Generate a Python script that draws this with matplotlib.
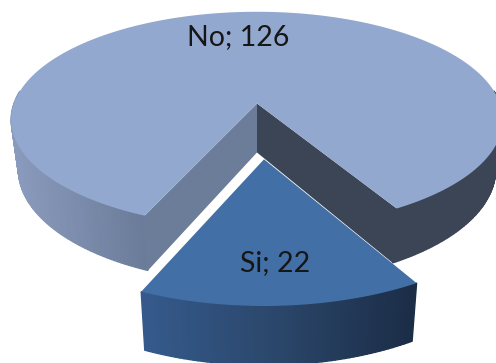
import numpy as np
import matplotlib
matplotlib.use("Agg")
import matplotlib.pyplot as plt
from matplotlib.colors import LinearSegmentedColormap

labels = ["No", "Si"]
values = [126, 22]

CX, CY = 257, 103.5
A, B, K = 243, 105.5, 0.15
THICK = 49
TAPER = 0.0006
EXPLODE = 0.49
SI_SHIFT = 7
LEFT_ANGLE = 23.5  # degrees left of straight-down where Si starts


def project(X, Y, z=0.0):
    s = 1 / (1 - K * Y)
    px = A * X * s * (1 - TAPER * z)
    return CX + px, CY + B * Y * s + z * s ** 0.75


def disc(theta, dy=0.0):
    # theta measured from straight down, growing towards the right
    return np.sin(theta), np.cos(theta) + dy


def side_strip(ax, theta, dy, cmap, x_lo, x_hi, shift, zorder):
    for i in range(len(theta) - 1):
        X, Y = disc(theta[i:i + 2], dy=dy)
        x0, y0 = project(X, Y)
        x1, y1 = project(X, Y, THICK)
        t = (0.5 * (x0[0] + x0[1]) - x_lo) / (x_hi - x_lo)
        ax.fill([x0[0] + shift, x0[1] + shift, x1[1] + shift, x1[0] + shift],
                [y0[0], y0[1], y1[1], y1[0]],
                color=cmap(np.clip(t, 0, 1)), lw=1.0, zorder=zorder)


def main():
    fig = plt.figure(figsize=(4.96, 3.63), dpi=100)
    ax = fig.add_axes([0, 0, 1, 1])
    ax.set_xlim(0, 496)
    ax.set_ylim(363, 0)
    ax.axis("off")

    sweep_si = 2 * np.pi * values[1] / sum(values)
    start = -np.radians(LEFT_ANGLE)
    end = start + sweep_si

    left_side = LinearSegmentedColormap.from_list("ls", ["#8a9bbd", "#6b7c9a"])
    dark_side = LinearSegmentedColormap.from_list("ds", ["#3c4555", "#3c4555"])
    si_side = LinearSegmentedColormap.from_list("ss", ["#34598a", "#2a4568", "#1a2b45"])

    # big slice side wall, only the parts facing the viewer
    side_strip(ax, np.linspace(end, np.radians(97), 80), 0, dark_side, 0, 1, 0, 1)
    side_strip(ax, np.linspace(np.radians(263), start + 2 * np.pi, 80), 0, left_side, 12, 145, 0, 1)

    # inner walls of the cut
    X, Y = disc(start)
    lx, ly = project(X, Y)
    lx2, ly2 = project(X, Y, THICK)
    ax.fill([CX, lx, lx2, CX], [CY, ly, ly2, CY + THICK], color="#6c7d9a", lw=0, zorder=2)
    X, Y = disc(end)
    rx, ry = project(X, Y)
    rx2, ry2 = project(X, Y, THICK)
    ax.fill([CX, rx, rx2, CX], [CY, ry, ry2, CY + THICK], color="#3c4555", lw=0, zorder=2)

    # big slice top
    th = np.linspace(end, start + 2 * np.pi, 400)
    x, y = project(*disc(th))
    ax.fill(np.r_[CX, x], np.r_[CY, y], color="#93a8cf", lw=0, zorder=3)

    # Si side wall and top
    th = np.linspace(start, end, 60)
    side_strip(ax, th, EXPLODE, si_side, 143, 417, SI_SHIFT, 4)
    x, y = project(*disc(th, dy=EXPLODE))
    apex_x, apex_y = project(0.0, EXPLODE)
    ax.fill(np.r_[apex_x, x] + SI_SHIFT, np.r_[apex_y, y], color="#4270a6", lw=0, zorder=5)

    ax.text(238, 37, f"{labels[0]}; {values[0]}", fontsize=20.5, family="Lato",
            ha="center", va="center", color="#161616", zorder=6)
    ax.text(275, 263, f"{labels[1]}; {values[1]}", fontsize=20.5, family="Lato",
            ha="center", va="center", color="#161616", zorder=6)

    fig.savefig("out.png", dpi=100)


if __name__ == "__main__":
    main()
